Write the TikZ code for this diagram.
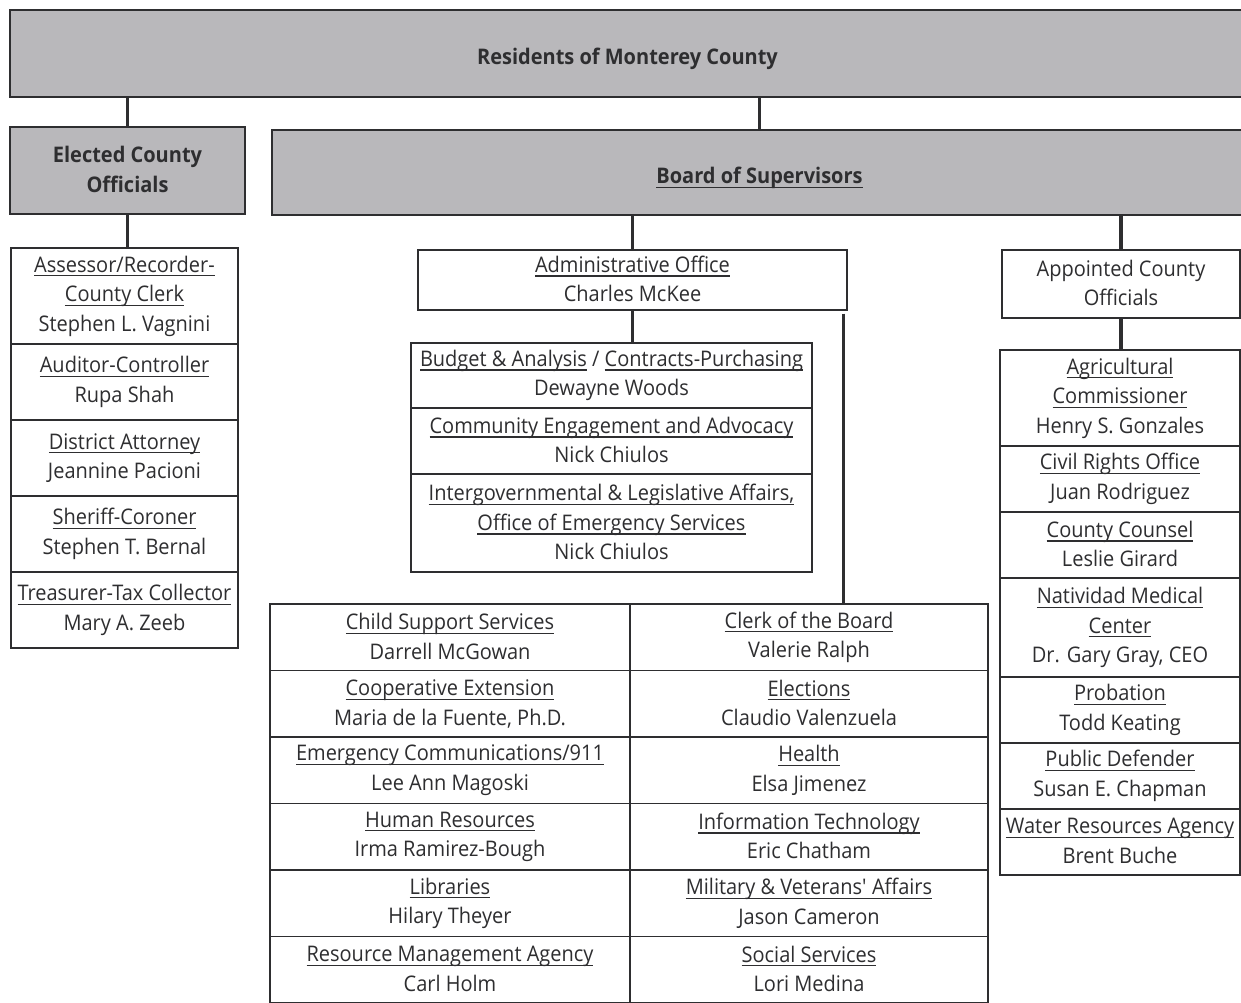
\documentclass[tikz,border=0pt]{standalone}
\usepackage{fontspec}
\setmainfont[FakeStretch=0.93]{Open Sans}
\definecolor{boxgray}{HTML}{B9B8BB}
\definecolor{ink}{HTML}{2E2E30}
\newsavebox\ulbox
\newcommand\ul[1]{\sbox\ulbox{#1}\rlap{\vrule height -3pt depth 4.3pt width \wd\ulbox}\usebox\ulbox}
\newcommand\cstrut{\vrule width 0pt height 27.5pt depth 2pt\relax}
\tikzset{
  base/.style={draw=ink, line width=1.4pt, rectangle, inner sep=2pt, align=center,
    text=ink, font=\fontsize{21.5}{29.5}\selectfont,
    execute at begin node={\cstrut}, execute at end node={\cstrut}},
  head/.style={base, fill=boxgray, font=\fontsize{21.5}{29.5}\selectfont\bfseries},
  cell/.style={base, fill=white},
  conn/.style={draw=ink, line width=3.5pt},
}
\begin{document}
\begin{tikzpicture}[x=1pt,y=-1pt]
\useasboundingbox (0,0) rectangle (1241,1002);
\fill[white] (0,0) rectangle (1241,1002);

% headers
\node[head, minimum width=1235pt, minimum height=87pt] (res) at (627.5,53.5) {Residents of Monterey County};
\node[head, minimum width=235pt, minimum height=87pt] (elec) at (127.5,170.5) {Elected County\\Officials};
\node[head, minimum width=975pt, minimum height=85pt] (board) at (759.5,172.5) {\ul{Board of Supervisors}};

% left stack
\node[cell, minimum width=227pt, minimum height=96pt] (e1) at (124.5,296) {\ul{Assessor/Recorder-}\\\ul{County Clerk}\\Stephen L. Vagnini};
\node[cell, minimum width=227pt, minimum height=76pt] (e2) at (124.5,382) {\ul{Auditor-Controller}\\Rupa Shah};
\node[cell, minimum width=227pt, minimum height=76pt] (e3) at (124.5,458) {\ul{District Attorney}\\Jeannine Pacioni};
\node[cell, minimum width=227pt, minimum height=76pt] (e4) at (124.5,534) {\ul{Sheriff-Coroner}\\Stephen T. Bernal};
\node[cell, minimum width=227pt, minimum height=76pt] (e5) at (124.5,610) {\ul{Treasurer-Tax Collector}\\Mary A. Zeeb};

% administrative office
\node[cell, minimum width=429pt, minimum height=60pt] (adm) at (632.5,280) {\ul{Administrative Office}\\Charles McKee};
\node[cell, minimum width=401pt, minimum height=65pt] (s1) at (611.5,375.5) {\ul{Budget \& Analysis} / \ul{Contracts-Purchasing}\\Dewayne Woods};
\node[cell, minimum width=401pt, minimum height=66pt] (s2) at (611.5,441) {\ul{Community Engagement and Advocacy}\\Nick Chiulos};
\node[cell, minimum width=401pt, minimum height=98pt] (s3) at (611.5,523) {\ul{Intergovernmental \& Legislative Affairs,}\\\ul{Office of Emergency Services}\\Nick Chiulos};

% appointed
\node[cell, minimum width=238pt, minimum height=68pt] (app) at (1121,284) {Appointed County\\Officials};
\node[cell, minimum width=240pt, minimum height=96pt] (a1) at (1120,398) {\ul{Agricultural}\\\ul{Commissioner}\\Henry S. Gonzales};
\node[cell, minimum width=240pt, minimum height=66pt] (a2) at (1120,479) {\ul{Civil Rights Office}\\Juan Rodriguez};
\node[cell, minimum width=240pt, minimum height=66pt] (a3) at (1120,545) {\ul{County Counsel}\\Leslie Girard};
\node[cell, minimum width=240pt, minimum height=99pt] (a4) at (1120,627.5) {\ul{Natividad Medical}\\\ul{Center}\\Dr. Gary Gray, CEO};
\node[cell, minimum width=240pt, minimum height=66pt] (a5) at (1120,710) {\ul{Probation}\\Todd Keating};
\node[cell, minimum width=240pt, minimum height=66pt] (a6) at (1120,776) {\ul{Public Defender}\\Susan E. Chapman};
\node[cell, minimum width=240pt, minimum height=66pt] (a7) at (1120,842) {\ul{Water Resources Agency}\\Brent Buche};

% grid
\node[cell, minimum width=360pt, minimum height=66.5pt] (g1) at (450,637.25) {\ul{Child Support Services}\\Darrell McGowan};
\node[cell, minimum width=360pt, minimum height=66.5pt] (g2) at (450,703.75) {\ul{Cooperative Extension}\\Maria de la Fuente, Ph.D.};
\node[cell, minimum width=360pt, minimum height=66.5pt] (g3) at (450,770.25) {\ul{Emergency Communications/911}\\Lee Ann Magoski};
\node[cell, minimum width=360pt, minimum height=66.5pt] (g4) at (450,836.75) {\ul{Human Resources}\\Irma Ramirez-Bough};
\node[cell, minimum width=360pt, minimum height=66.5pt] (g5) at (450,903.25) {\ul{Libraries}\\Hilary Theyer};
\node[cell, minimum width=360pt, minimum height=66.5pt] (g6) at (450,969.75) {\ul{Resource Management Agency}\\Carl Holm};
\node[cell, minimum width=358pt, minimum height=66.5pt] (h1) at (809,637.25) {\ul{Clerk of the Board}\\Valerie Ralph};
\node[cell, minimum width=358pt, minimum height=66.5pt] (h2) at (809,703.75) {\ul{Elections}\\Claudio Valenzuela};
\node[cell, minimum width=358pt, minimum height=66.5pt] (h3) at (809,770.25) {\ul{Health}\\Elsa Jimenez};
\node[cell, minimum width=358pt, minimum height=66.5pt] (h4) at (809,836.75) {\ul{Information Technology}\\Eric Chatham};
\node[cell, minimum width=358pt, minimum height=66.5pt] (h5) at (809,903.25) {\ul{Military \& Veterans\textquotesingle\ Affairs}\\Jason Cameron};
\node[cell, minimum width=358pt, minimum height=66.5pt] (h6) at (809,969.75) {\ul{Social Services}\\Lori Medina};

% connectors
\draw[conn] (elec.north) -- (elec.north |- res.south);
\draw[conn] (board.north) -- (board.north |- res.south);
\draw[conn] (e1.north -| elec.south) -- (elec.south);
\draw[conn] (adm.north) -- (adm.north |- board.south);
\draw[conn] (app.north) -- (app.north |- board.south);
\draw[conn] (adm.south) -- (adm.south |- s1.north);
\draw[conn] (app.south) -- (app.south |- a1.north);
\coordinate (admr) at ([xshift=-4pt,yshift=-3pt]adm.south east);
\draw[conn] (admr) -- (admr |- h1.north);
\end{tikzpicture}
\end{document}
